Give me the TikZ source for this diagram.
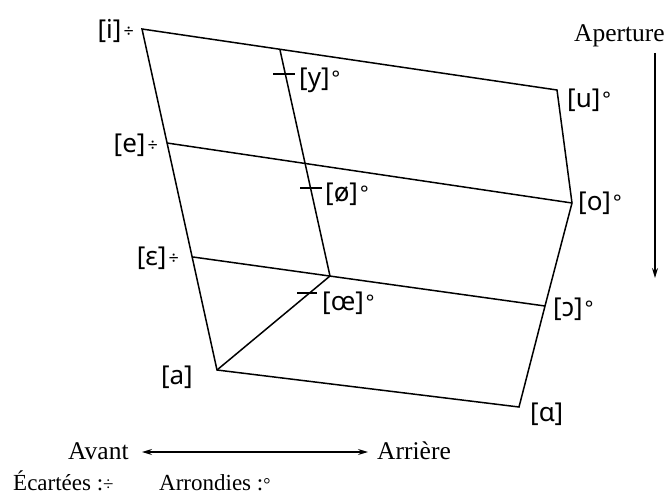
\documentclass[tikz,border=0pt]{standalone}
\usepackage{fontspec}
\setmainfont{Liberation Serif}
\newfontfamily\ipafont{Noto Sans}
\usetikzlibrary{arrows.meta}
\tikzset{
  edge/.style={line width=1.5pt, line join=miter},
  ipa/.style={font=\ipafont\fontsize{26}{26}\selectfont, inner sep=0pt},
  serif/.style={font=\fontsize{25.5}{25.5}\selectfont, inner sep=0pt},
  legend/.style={font=\fontsize{23}{23}\selectfont, inner sep=0pt},
  axis/.style={line width=1.2pt},
  axtip/.tip={Stealth[length=10pt,width=6pt]},
  tick/.style={line width=1.5pt}
}
\newcommand{\unr}{\kern2pt\raisebox{1pt}{\fontsize{18}{18}\selectfont ÷}}
\newcommand{\rnd}{\kern2pt\raisebox{1pt}{\fontsize{20}{20}\selectfont °}}
\begin{document}
\begin{tikzpicture}[x=1pt,y=-1pt]
\useasboundingbox (0,0) rectangle (667,495);
% vertices
\coordinate (i) at (142,29);
\coordinate (u) at (557,90);
\coordinate (e) at (167,143);
\coordinate (o) at (572,203);
\coordinate (E) at (193,257);
\coordinate (O) at (545,306);
\coordinate (a) at (217,370);
\coordinate (A) at (519,407);
\coordinate (ytop) at (280,50);
\coordinate (c) at (330,276);
% frame
\draw[edge] (a) -- (i) -- (u) -- (o) -- (O) -- (A) -- cycle;
\draw[edge] (e) -- (o);
\draw[edge] (E) -- (O);
\draw[edge] (ytop) -- (c) -- (a);
% ticks
\coordinate (ty1) at (273,74); \coordinate (ty2) at (295,74);
\coordinate (to1) at (300,188); \coordinate (to2) at (322,188);
\coordinate (tc1) at (297,293); \coordinate (tc2) at (317,293);
\draw[tick] (ty1) -- (ty2);
\draw[tick] (to1) -- (to2);
\draw[tick] (tc1) -- (tc2);
% labels
\node[ipa, anchor=east] (li) at (134,31) {[i]\unr};
\node[ipa, anchor=east] (le) at (158,145) {[e]\unr};
\node[ipa, anchor=east] (lE) at (179,258) {[ɛ]\unr};
\node[ipa, anchor=east] (la) at (193,377) {[a]};
\node[ipa, anchor=west] (lA) at (530,414) {[ɑ]};
\node[ipa, anchor=west] (lu) at (567,100) {[u]\rnd};
\node[ipa, anchor=west] (lo) at (578,203) {[o]\rnd};
\node[ipa, anchor=west] (lO) at (553,309) {[ɔ]\rnd};
\node[ipa, anchor=west] (ly) at (299,80) {[y]\rnd};
\node[ipa, anchor=west] (lø) at (325,194) {[ø]\rnd};
\node[ipa, anchor=west] (lœ) at (322,303) {[œ]\rnd};
% axes
\node[serif, anchor=base east] (aper) at (665,42) {Aperture};
\coordinate (v1) at (655,53);
\coordinate (v2) at (655,278);
\draw[axis, -{axtip}] (v1) -- (v2);
\node[serif, anchor=base west] (avant) at (68,459) {Avant};
\node[serif, anchor=base west] (arr) at (377,459) {Arrière};
\coordinate (h1) at (142,452);
\coordinate (h2) at (368,452);
\draw[axis, {axtip}-{axtip}] (h1) -- (h2);
\node[legend, anchor=base west] (ec) at (13,490) {Écartées :{\fontsize{19}{19}\selectfont ÷}};
\node[legend, anchor=base west] (ar) at (159,490) {Arrondies :{\fontsize{18}{18}\selectfont °}};
\end{tikzpicture}
\end{document}
